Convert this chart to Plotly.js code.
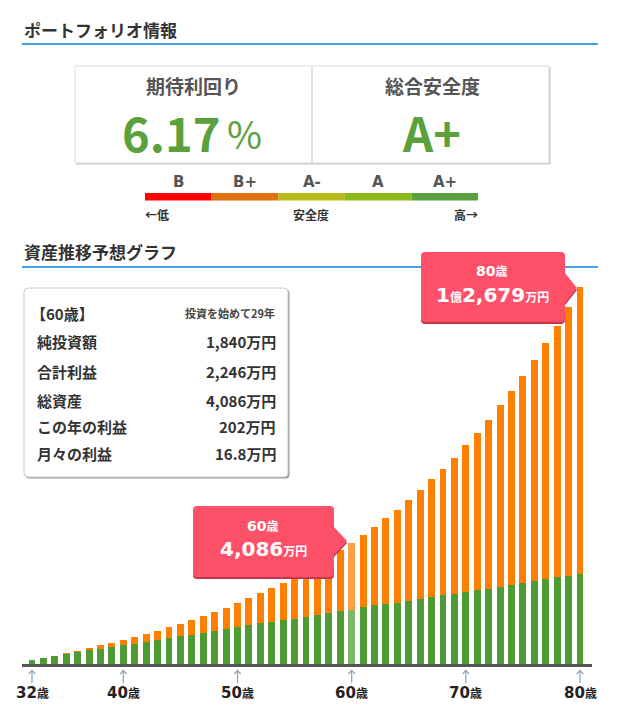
<!DOCTYPE html>
<html><head><meta charset="utf-8">
<script src="https://cdn.plot.ly/plotly-3.0.1.min.js"></script>
<style>html,body{margin:0;padding:0;background:#fff;}#chart{width:620px;height:724px;}</style>
</head><body><div id="chart"></div>
<script>
// ---- data ----
const ages = [32,33,34,35,36,37,38,39,40,41,42,43,44,45,46,47,48,49,50,51,52,53,54,55,56,57,58,59,60,61,62,63,64,65,66,67,68,69,70,71,72,73,74,75,76,77,78,79,80];
const invested = [174,230,297,364,431,487,521,588,660,711,779,846,913,969,1000,1065,1130,1193,1260,1328,1395,1455,1515,1555,1607,1670,1741,1798,1840,1933,2000,2040,2091,2158,2212,2279,2336,2393,2460,2504,2561,2615,2696,2749,2806,2874,2941,2985,3042];
const profit = [0,2,3,23,23,68,146,135,163,236,257,291,347,416,510,570,640,729,831,912,1013,1139,1235,1380,1528,1685,1854,2050,2246,2419,2645,2884,3125,3371,3676,3956,4235,4571,4917,5287,5680,6097,6496,6948,7438,7942,8446,9041,9637];
const tickAges = [32,40,50,60,70,80];
const highlightAge = 60;

const expectedReturn = '6.17';
const safetyGrade = 'A+';
const gradeLabels = ['B','B+','A-','A','A+'];
const gradeColors = ['#ff0000','#e0720e','#b8b818','#8cb81c','#5aa03e'];

const infoHeader = '【60歳】';
const infoSub = '投資を始めて29年';
const infoLabels = ['純投資額','合計利益','総資産','この年の利益','月々の利益'];
const infoValues = ['1,840','2,246','4,086','202','16.8'];

// ---- layout helpers ----
const W = 620, H = 724;
const plotL = 22, plotR = 592, plotB = 665, plotT = 250;
const JP = '"Noto Sans CJK JP", "Noto Sans", sans-serif';
const DV = '"DejaVu Sans", "Noto Sans CJK JP", sans-serif';
const GREEN_TXT = '#5aa03c';
const BLUE = '#4a9fe3';
const pxPerYear = 548/48;

const greenCol = ages.map(a => a === highlightAge ? '#7fb866' : '#4e9a33');
const orangeCol = ages.map(a => a === highlightAge ? '#ffa044' : '#ff8000');

const traces = [
  {type:'bar', x:ages, y:invested, width:0.6, marker:{color:greenCol, line:{width:0}}, hoverinfo:'skip', xaxis:'x', yaxis:'y'},
  {type:'bar', x:ages, y:profit, width:0.6, marker:{color:orangeCol, line:{width:0}}, hoverinfo:'skip', xaxis:'x', yaxis:'y'},
  {type:'scatter', x:[0], y:[0], mode:'markers', marker:{opacity:0}, hoverinfo:'skip', xaxis:'x2', yaxis:'y2'}
];

const px2 = {xref:'x2', yref:'y2'};
const shapes = [];
const ann = [];
function rect(x0,y0,x1,y1,fill,line,lw,layer){shapes.push(Object.assign({type:'rect',x0,y0,x1,y1,fillcolor:fill,line:{color:line||fill,width:lw||0},layer:layer||'above'},px2));}
function line(x0,y0,x1,y1,color,w,layer){shapes.push(Object.assign({type:'line',x0,y0,x1,y1,line:{color,width:w},layer:layer||'above'},px2));}
function rrect(x0,y0,x1,y1,r){return `M ${x0+r},${y0} L ${x1-r},${y0} Q ${x1},${y0} ${x1},${y0+r} L ${x1},${y1-r} Q ${x1},${y1} ${x1-r},${y1} L ${x0+r},${y1} Q ${x0},${y1} ${x0},${y1-r} L ${x0},${y0+r} Q ${x0},${y0} ${x0+r},${y0} Z`;}
function callout(x0,y0,x1,y1,tx,ty,hb,r){return `M ${x0+r},${y0} L ${x1-r},${y0} Q ${x1},${y0} ${x1},${y0+r} L ${x1},${ty-hb} L ${tx},${ty} L ${x1},${ty+hb} L ${x1},${y1-r} Q ${x1},${y1} ${x1-r},${y1} L ${x0+r},${y1} Q ${x0},${y1} ${x0},${y1-r} L ${x0},${y0+r} Q ${x0},${y0} ${x0+r},${y0} Z`;}
function path(p,fill,lc,lw){shapes.push(Object.assign({type:'path',path:p,fillcolor:fill,line:{color:lc||fill,width:lw||0},layer:'above'},px2));}
function text(t,x,y,size,color,xanchor,family){ann.push(Object.assign({text:t,x,y,xanchor:xanchor||'center',yanchor:'middle',showarrow:false,borderpad:0,font:{family:family||JP,size,color}},px2));}

// Section 1 header
text('<b>ポートフォリオ情報</b>', 23, 29, 17, '#333', 'left');
line(22,44,598,44,BLUE,2);

// boxes
rect(76.5,67.5,550.5,164.5,'#c4c4c4');
rect(75,66,549,163,'#ffffff','#dddddd',1);
line(312,66,312,163,'#d6d6d6',1.5);
text('<b>期待利回り</b>', 193, 85.5, 19, '#555');
text('<b>'+expectedReturn+'</b>', 221, 131, 47, GREEN_TXT, 'right');
text('%', 226, 132.5, 38, GREEN_TXT, 'left');
text('<b>総合安全度</b>', 432, 85.5, 19, '#555');
text('<b>'+safetyGrade+'</b>', 431, 131, 47, GREEN_TXT);

// grade bar
const gx0 = 145, gw = (478-145)/gradeLabels.length;
gradeLabels.forEach((g,i)=>{
  rect(gx0+i*gw,193,gx0+(i+1)*gw,200.5,gradeColors[i]);
  text('<b>'+g+'</b>', gx0+(i+0.5)*gw, 181.5, 15, '#555', 'center', DV);
});
text('<b>←低</b>', 144, 214, 12, '#333', 'left');
text('<b>安全度</b>', 311, 214, 12, '#333');
text('<b>高→</b>', 479, 214, 12, '#333', 'right');

// Section 2 header
text('<b>資産推移予想グラフ</b>', 23, 251, 17, '#333', 'left');
line(22,267,598,267,BLUE,2);

// info box
path(rrect(25.5,289.5,289.5,478.5,4),'#9a9a9a');
path(rrect(24,288,288,477,4),'#ffffff','#cccccc',1);
text('<b>'+infoHeader+'</b>', 30, 313, 15, '#333', 'left');
text('<b>'+infoSub+'</b>', 276, 313, 11, '#444', 'right');
const rowY = [341.5, 371.5, 400, 426.5, 453];
infoLabels.forEach((l,i)=>{
  text('<b>'+l+'</b>', 36, rowY[i], 15, '#333', 'left');
  text('<b>'+infoValues[i]+'万円</b>', 277, rowY[i], 15, '#333', 'right');
});

// axis baseline
line(plotL,665.5,plotR,665.5,'#555',3);

// x tick arrows and labels
const ARROW = '#86a3bd';
const hw = 3.2 / pxPerYear;
tickAges.forEach(a=>{
  shapes.push({type:'line', xref:'x', yref:'y2', x0:a, x1:a, y0:670.5, y1:683, line:{color:ARROW, width:1.2}, layer:'above'});
  shapes.push({type:'path', xref:'x', yref:'y2', path:`M ${a-hw},674 L ${a},670.3 L ${a+hw},674`, line:{color:ARROW, width:1.2}, layer:'above'});
  ann.push({text:'<b>'+a+'<span style="font-size:12px">歳</span></b>', x:a, xref:'x', y:693, yref:'y2', xanchor:'center', yanchor:'middle', showarrow:false, borderpad:0, font:{family:DV,size:15,color:'#222'}});
});

// callouts
const CALL = '#ff506a', CALLSH = '#c8344e';
path(callout(193,508,334,579,347,543,14,4),CALLSH);
path(callout(193,506,334,577,347,541,14,4),CALL);
text('<b>60<span style="font-size:12px">歳</span></b>', 263, 525.5, 14, '#fff', 'center', DV);
text('<b>4,086<span style="font-size:12px">万円</span></b>', 263, 549, 20, '#fff', 'center', DV);

path(callout(421,254,565,324,577,290,15,4),CALLSH);
path(callout(421,252,565,322,577,288,15,4),CALL);
text('<b>80<span style="font-size:12px">歳</span></b>', 492, 270.5, 14, '#fff', 'center', DV);
text('<b>1<span style="font-size:12px">億</span>2,679<span style="font-size:12px">万円</span></b>', 492, 295, 20, '#fff', 'center', DV);

const ymax = 415 * (12679 / 377.7);
const layout = {
  width:W, height:H, margin:{l:0,r:0,t:0,b:0},
  paper_bgcolor:'#ffffff', plot_bgcolor:'rgba(0,0,0,0)',
  showlegend:false, barmode:'stack', bargap:0,
  xaxis:{domain:[plotL/W, plotR/W], range:[32-(32-plotL)/pxPerYear, 80+(plotR-580)/pxPerYear], visible:false, fixedrange:true, anchor:'y'},
  yaxis:{domain:[(H-plotB)/H, (H-plotT)/H], range:[0, ymax], visible:false, fixedrange:true, anchor:'x'},
  xaxis2:{domain:[0,1], range:[0,W], visible:false, fixedrange:true, anchor:'y2'},
  yaxis2:{domain:[0,1], range:[H,0], visible:false, fixedrange:true, anchor:'x2'},
  shapes, annotations:ann
};
Plotly.newPlot('chart', traces, layout, {staticPlot:true, displayModeBar:false});
</script></body></html>
